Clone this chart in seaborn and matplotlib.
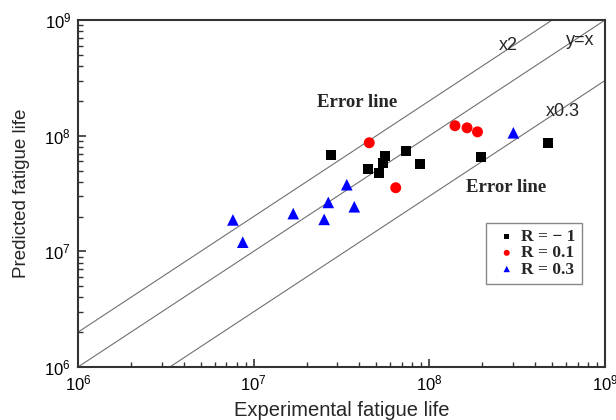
import matplotlib
matplotlib.use('Agg')
import matplotlib.pyplot as plt
import matplotlib.ticker as mticker
import seaborn as sns
import numpy as np
import pandas as pd

# R = -1
exp_r1 = [2.76e7, 4.46e7, 5.19e7, 5.47e7, 5.61e7, 7.36e7, 8.89e7, 1.97e8, 4.75e8]
pred_r1 = [6.76e7, 5.18e7, 4.76e7, 5.84e7, 6.67e7, 7.41e7, 5.65e7, 6.50e7, 8.59e7]
# R = 0.1
exp_r01 = [4.55e7, 6.44e7, 1.40e8, 1.64e8, 1.88e8]
pred_r01 = [8.69e7, 3.55e7, 1.22e8, 1.17e8, 1.08e8]
# R = 0.3
exp_r03 = [7.62e6, 8.67e6, 1.68e7, 2.52e7, 2.66e7, 3.39e7, 3.74e7, 3.01e8]
pred_r03 = [1.87e7, 1.20e7, 2.12e7, 1.89e7, 2.65e7, 3.77e7, 2.43e7, 1.06e8]

group_labels = ['R = \u2212 1', 'R = 0.1', 'R = 0.3']
factors = [2, 1, 0.3]
factor_labels = ['x2', 'y=x', 'x0.3']
axis_range = [1e6, 1e9]

df = pd.concat([
    pd.DataFrame({'exp': exp_r1, 'pred': pred_r1, 'R': group_labels[0]}),
    pd.DataFrame({'exp': exp_r01, 'pred': pred_r01, 'R': group_labels[1]}),
    pd.DataFrame({'exp': exp_r03, 'pred': pred_r03, 'R': group_labels[2]}),
])

sns.set_style('ticks')
plt.rcParams['font.family'] = ['Liberation Sans', 'DejaVu Sans']

fig = plt.figure(figsize=(6.16, 4.2), dpi=100)
ax = fig.add_axes([0.1266, 0.1262, 0.8555, 0.826])

# diagonal reference lines
xs = np.array(axis_range)
for k in factors:
    ax.plot(xs, k * xs, color='#707070', lw=0.8, zorder=1)

# scatter points, one call per R
styles = {group_labels[0]: ('s', 'black', 50),
          group_labels[1]: ('o', 'red', 62),
          group_labels[2]: ('^', 'blue', 70)}
for g in group_labels:
    m, c, s = styles[g]
    sns.scatterplot(data=df[df['R'] == g], x='exp', y='pred', marker=m,
                    color=c, s=s, edgecolor='none', label=g, ax=ax, zorder=3)

ax.set_xscale('log')
ax.set_yscale('log')
ax.set_xlim(axis_range)
ax.set_ylim(axis_range)
ax.xaxis.set_minor_formatter(mticker.NullFormatter())
ax.yaxis.set_minor_formatter(mticker.NullFormatter())

ax.tick_params(which='both', direction='in', top=False, right=False,
               colors='#333333', labelcolor='black', labelsize=12)
ax.tick_params(which='major', length=6, width=1.2, pad=5)
ax.tick_params(which='minor', length=3.5, width=1)
for sp in ax.spines.values():
    sp.set_color('#333333')
    sp.set_linewidth(1.5)

ax.set_xlabel('Experimental fatigue life', fontsize=14.5)
ax.set_ylabel('Predicted fatigue life', fontsize=13.5)
ax.xaxis.set_label_coords(0.5, -0.098)
ax.yaxis.set_label_coords(-0.092, 0.5)

# line annotations
txt_pos = [(0.816, 0.928), (0.953, 0.942), (0.920, 0.737)]
for lab, (tx, ty) in zip(factor_labels, txt_pos):
    ax.text(tx, ty, lab, transform=ax.transAxes, fontsize=13,
            ha='center', va='center')

err_font = dict(family='Liberation Serif', weight='bold', size=13.5)
ax.text(0.529, 0.761, 'Error line', transform=ax.transAxes,
        ha='center', va='center', fontdict=err_font)
ax.text(0.812, 0.516, 'Error line', transform=ax.transAxes,
        ha='center', va='center', fontdict=err_font)

leg = ax.legend(loc='upper left', bbox_to_anchor=(0.774, 0.415),
                borderaxespad=0, frameon=True, fancybox=False,
                edgecolor='#888888', framealpha=1, markerscale=0.55,
                handletextpad=0.0, handlelength=1.7, labelspacing=0.0,
                borderpad=0.35,
                prop=dict(family='Liberation Serif', weight='bold', size=12.5))
leg.get_frame().set_linewidth(1.0)

fig.savefig('out.png', dpi=100)
